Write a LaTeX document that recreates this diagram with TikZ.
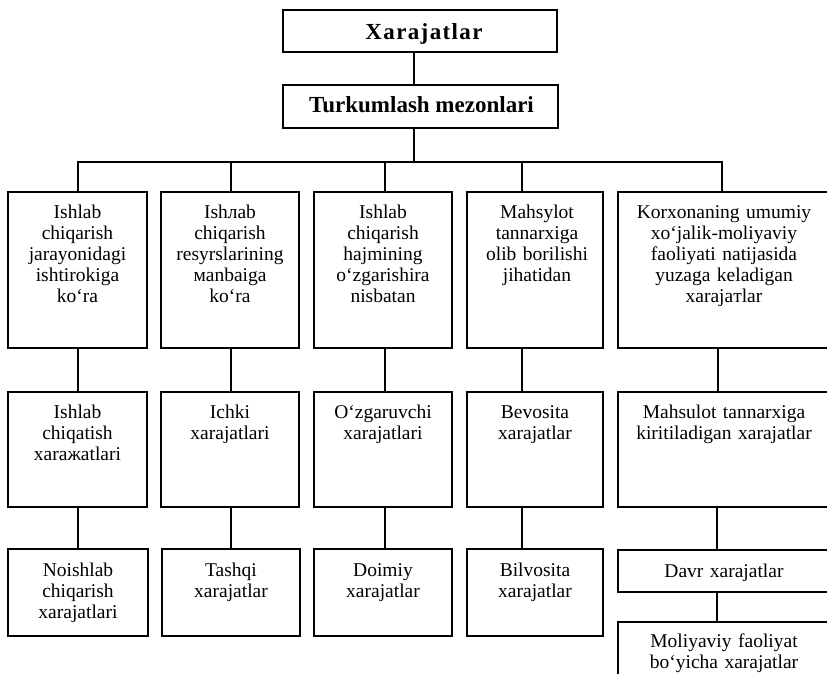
\documentclass[tikz,border=0pt]{standalone}
\usepackage{fontspec}
\setmainfont{Liberation Serif}
\begin{document}
\begin{tikzpicture}[x=1pt,y=-1pt,
  box/.style={draw, line width=1.4pt, inner sep=0pt, outer sep=0pt},
  lbl/.style={anchor=base, inner sep=0pt, align=center, text width=#1,
    font=\fontsize{19.5}{21}\selectfont},
  ttl/.style={anchor=base, inner sep=0pt, font=\fontsize{23}{25}\selectfont\bfseries},
  conn/.style={line width=1.4pt}]
\useasboundingbox (0,0) rectangle (827,674);
\fill[white] (0,0) rectangle (827,674);
\clip (0,0) rectangle (827,674);

% top boxes
\node[box, minimum width=274pt, minimum height=42pt] (X) at (420,31) {};
\node[ttl] (tX) at (424,40) {\addfontfeatures{LetterSpace=6}Xarajatlar};
\node[box, minimum width=275pt, minimum height=43pt] (T) at (420.5,106.5) {};
\node[ttl] (tT) at (421.5,113) {Turkumlash mezonlari};

% row 1
\node[box, minimum width=139pt, minimum height=156pt] (a1) at (77.5,270) {};
\node[box, minimum width=138pt, minimum height=156pt] (a2) at (230,270) {};
\node[box, minimum width=138pt, minimum height=156pt] (a3) at (383,270) {};
\node[box, minimum width=136pt, minimum height=156pt] (a4) at (535,270) {};
\node[box, minimum width=216pt, minimum height=156pt] (a5) at (726,270) {};
\node[lbl=134pt] (ta1) at ([yshift=-26pt]a1.north) {Ishlab\\chiqarish\\jarayonidagi\\ishtirokiga\\ko`ra};
\node[lbl=134pt] (ta2) at ([yshift=-26pt]a2.north) {Ishлab\\chiqarish\\resyrslarining\\мanbaiga\\ko`ra};
\node[lbl=134pt] (ta3) at ([yshift=-26pt]a3.north) {Ishlab\\chiqarish\\hajmining\\o`zgarishira\\nisbatan};
\node[lbl=132pt] (ta4) at ([yshift=-26pt,xshift=2pt]a4.north) {Mahsylot\\tannarxiga\\olib borilishi\\jihatidan};
\node[lbl=210pt] (ta5) at ([yshift=-26pt,xshift=-2pt]a5.north) {Korxonaning umumiy\\xo`jalik-moliyaviy\\faoliyati natijasida\\yuzaga keladigan\\xarajaтlar};

% row 2
\node[box, minimum width=139pt, minimum height=115pt] (b1) at (77.5,449.5) {};
\node[box, minimum width=138pt, minimum height=115pt] (b2) at (230,449.5) {};
\node[box, minimum width=138pt, minimum height=115pt] (b3) at (383,449.5) {};
\node[box, minimum width=136pt, minimum height=115pt] (b4) at (535,449.5) {};
\node[box, minimum width=216pt, minimum height=115pt] (b5) at (726,449.5) {};
\node[lbl=134pt] (tb1) at ([yshift=-26pt]b1.north) {Ishlab\\chiqatish\\xaraжatlari};
\node[lbl=134pt] (tb2) at ([yshift=-26pt]b2.north) {Ichki\\xarajatlari};
\node[lbl=134pt] (tb3) at ([yshift=-26pt]b3.north) {O`zgaruvchi\\xarajatlari};
\node[lbl=132pt] (tb4) at ([yshift=-26pt]b4.north) {Bevosita\\xarajatlar};
\node[lbl=210pt] (tb5) at ([yshift=-26pt,xshift=-2pt]b5.north) {Mahsulot tannarxiga\\kiritiladigan xarajatlar};

% row 3
\node[box, minimum width=140pt, minimum height=87pt] (c1) at (78,592.5) {};
\node[box, minimum width=138pt, minimum height=87pt] (c2) at (231,592.5) {};
\node[box, minimum width=138pt, minimum height=87pt] (c3) at (383,592.5) {};
\node[box, minimum width=136pt, minimum height=87pt] (c4) at (535,592.5) {};
\node[box, minimum width=216pt, minimum height=42pt] (c5) at (726,571) {};
\node[box, minimum width=216pt, minimum height=78pt] (d5) at (726,661) {};
\node[lbl=134pt] (tc1) at ([yshift=-27pt]c1.north) {Noishlab\\chiqarish\\xarajatlari};
\node[lbl=134pt] (tc2) at ([yshift=-27pt]c2.north) {Tashqi\\xarajatlar};
\node[lbl=134pt] (tc3) at ([yshift=-27pt]c3.north) {Doimiy\\xarajatlar};
\node[lbl=132pt] (tc4) at ([yshift=-27pt]c4.north) {Bilvosita\\xarajatlar};
\node[lbl=210pt] (tc5) at ([yshift=-27pt,xshift=-2pt]c5.north) {Davr xarajatlar};
\node[lbl=210pt] (td5) at ([yshift=-25pt,xshift=-2pt]d5.north) {Moliyaviy faoliyat\\bo`yicha xarajatlar};

% connectors
\coordinate (bar) at (414,162);
\draw[conn] (X.south -| bar) -- (T.north -| bar);
\draw[conn] (T.south -| bar) -- (bar);
\draw[conn] ([xshift=0.5pt]a1.north) |- (bar);
\draw[conn] ([xshift=1pt]a2.north) |- (bar);
\draw[conn] ([xshift=2pt]a3.north) |- (bar);
\draw[conn] ([xshift=-13pt]a4.north) |- (bar);
\draw[conn] ([xshift=-4pt]a5.north) |- (bar);

\draw[conn] ([xshift=0.5pt]a1.south) -- ([xshift=0.5pt]b1.north);
\draw[conn] ([xshift=1pt]a2.south) -- ([xshift=1pt]b2.north);
\draw[conn] ([xshift=2pt]a3.south) -- ([xshift=2pt]b3.north);
\draw[conn] ([xshift=-13pt]a4.south) -- ([xshift=-13pt]b4.north);
\draw[conn] ([xshift=-8pt]a5.south) -- ([xshift=-8pt]b5.north);

\draw[conn] ([xshift=0.5pt]b1.south) -- (c1.north);
\draw[conn] ([xshift=1pt]b2.south) -- (c2.north);
\draw[conn] ([xshift=2pt]b3.south) -- ([xshift=2pt]c3.north);
\draw[conn] ([xshift=-13pt]b4.south) -- ([xshift=-13pt]c4.north);
\draw[conn] ([xshift=-9pt]b5.south) -- ([xshift=-9pt]c5.north);
\draw[conn] ([xshift=-9pt]c5.south) -- ([xshift=-9pt]d5.north);
\end{tikzpicture}
\end{document}
